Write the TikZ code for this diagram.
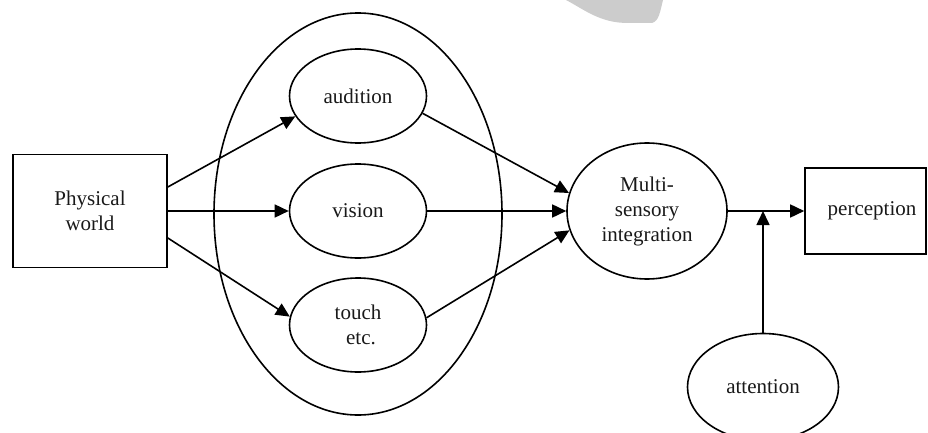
\documentclass[tikz,border=0pt]{standalone}
\usepackage{fontspec}
\setmainfont{Liberation Serif}
\usetikzlibrary{shapes.geometric, arrows.meta}
\begin{document}
\begin{tikzpicture}[x=1pt,y=-1pt,
  lw/.style={line width=1.6pt},
  lbl/.style={font=\fontsize{21}{25}\selectfont, align=center, text=black!90},
  box/.style={draw, lw, rectangle, inner sep=0pt, lbl},
  oval/.style={draw, lw, ellipse, inner sep=0pt, lbl},
  arr/.style={lw, -{Triangle[length=14pt,width=13pt]}}
]
\useasboundingbox (0,0) rectangle (928,433);
\clip (0,0) rectangle (928,433);
% faint watermark fragment
\fill[black!20] (566,0) .. controls (585,10) and (600,23) .. (628,23) -- (652,23) .. controls (659,21) and (660,12) .. (663,0) -- cycle;

\node[oval, minimum width=288, minimum height=402] (group) at (358,214) {};
\node[oval, minimum width=137, minimum height=94] (aud) at (358,96) {audition};
\node[oval, minimum width=137, minimum height=94] (vis) at (358,211) {vision};
\node[oval, minimum width=137, minimum height=94] (tou) at (358,325) {touch\\\hspace*{6pt}etc.};
\node[box, minimum width=154, minimum height=113] (phys) at (90,211) {Physical\\world};
\node[oval, minimum width=160, minimum height=136] (msi) at (647,211) {Multi-\\sensory\\integration};
\node[box, minimum width=121, minimum height=86] (perc) at (865.5,211) {\hspace*{13pt}perception};
\node[oval, minimum width=151, minimum height=107] (att) at (763,387) {attention};
\coordinate (j) at (763,211);

\draw[arr] ([yshift=24pt]phys.east) -- (aud.198);
\draw[arr] (phys.east) -- (vis.west);
\draw[arr] ([yshift=-27pt]phys.east) -- (tou.173);
\draw[arr] (aud.-15) -- (msi.167);
\draw[arr] (vis.east) -- (msi.west);
\draw[arr] (tou.6) -- (msi.194);
\draw[arr] (msi.east) -- (perc.west);
\draw[arr] (att.north) -- (j);
\end{tikzpicture}
\end{document}
